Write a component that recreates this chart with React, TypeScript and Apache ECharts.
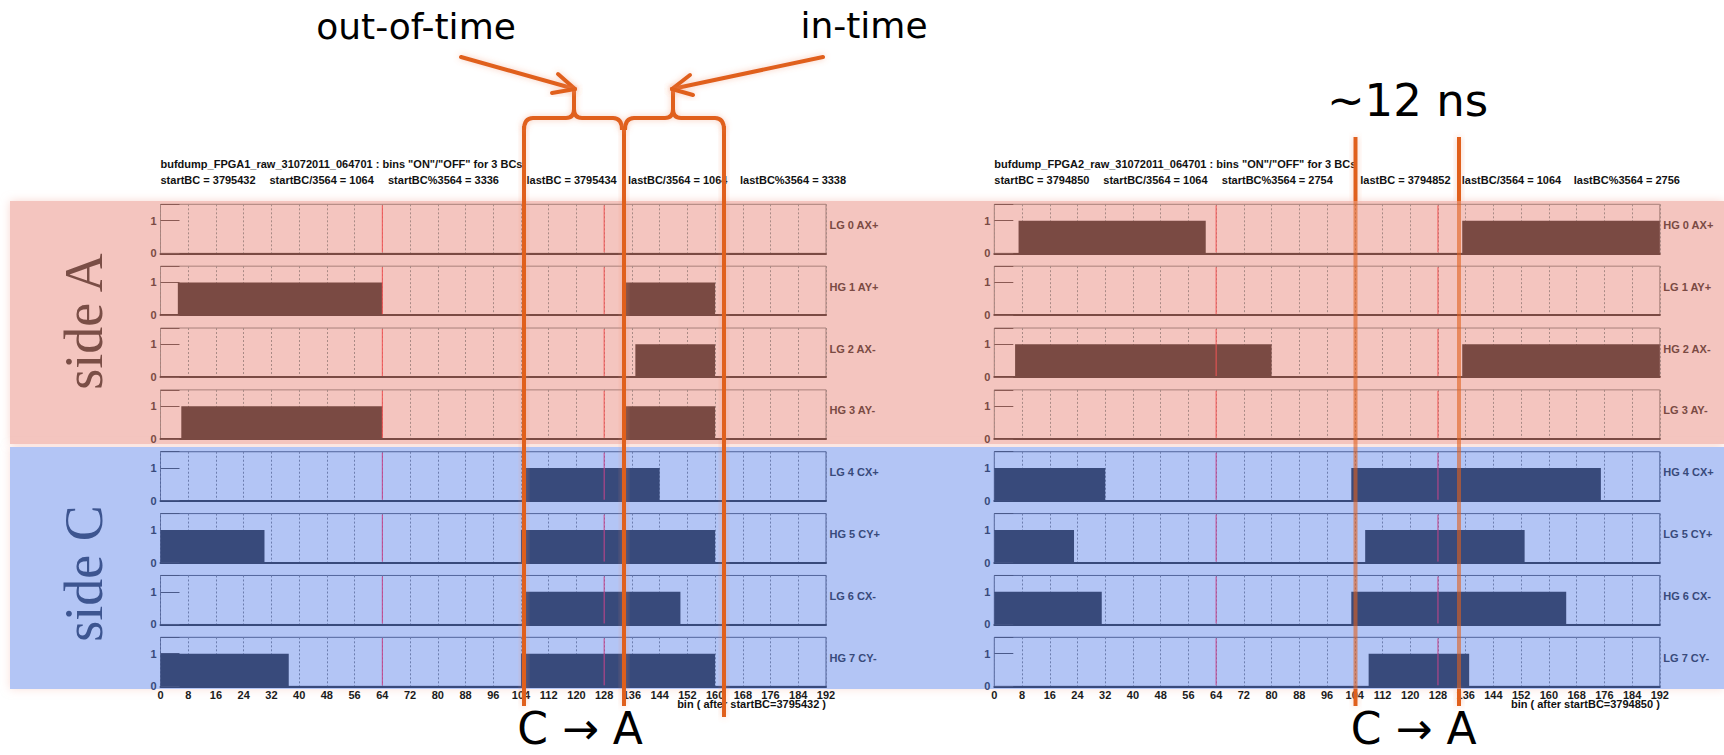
import React, { useEffect, useRef } from 'react';
import * as echarts from 'echarts';

// ---------- data ----------
const binMin = 0;
const binMax = 192;
const binStep = 8;
const bcBoundaries = [64, 128];

const channelsFPGA1 = ['LG 0 AX+', 'HG 1 AY+', 'LG 2 AX-', 'HG 3 AY-', 'LG 4 CX+', 'HG 5 CY+', 'LG 6 CX-', 'HG 7 CY-'];
const channelsFPGA2 = ['HG 0 AX+', 'LG 1 AY+', 'HG 2 AX-', 'LG 3 AY-', 'HG 4 CX+', 'LG 5 CY+', 'HG 6 CX-', 'LG 7 CY-'];

// bins "ON" intervals [start, end) per channel
const onBinsFPGA1 = [
  [],
  [[5, 64], [134, 160]],
  [[137, 160]],
  [[6, 64], [134, 160]],
  [[105, 144]],
  [[0, 30], [104, 160]],
  [[105, 150]],
  [[0, 37], [104, 160]],
];
const onBinsFPGA2 = [
  [[7, 61], [135, 192]],
  [],
  [[6, 80], [135, 192]],
  [],
  [[0, 32], [103, 175]],
  [[0, 23], [107, 153]],
  [[0, 31], [103, 165]],
  [[108, 137]],
];

const titleFPGA1 = 'bufdump_FPGA1_raw_31072011_064701 : bins "ON"/"OFF" for 3 BCs';
const titleFPGA2 = 'bufdump_FPGA2_raw_31072011_064701 : bins "ON"/"OFF" for 3 BCs';
const infoFPGA1 = ['startBC = 3795432', 'startBC/3564 = 1064', 'startBC%3564 = 3336', 'lastBC = 3795434', 'lastBC/3564 = 1064', 'lastBC%3564 = 3338'];
const infoFPGA2 = ['startBC = 3794850', 'startBC/3564 = 1064', 'startBC%3564 = 2754', 'lastBC = 3794852', 'lastBC/3564 = 1064', 'lastBC%3564 = 2756'];
const xTitleFPGA1 = 'bin ( after startBC=3795432 )';
const xTitleFPGA2 = 'bin ( after startBC=3794850 )';

const sideLabels = ['side A', 'side C'];
const annOutOfTime = 'out-of-time';
const annInTime = 'in-time';
const annDelay = '~12 ns';
const annDirection = 'C \u2192 A';

// ---------- layout / style ----------
const W = 1724;
const H = 755;
const LEFTS = [160.5, 994.3];
const PW = 665.5;
const TOP0 = 204.3;
const PITCH = 61.86;
const RH = 49;
const INFO_OFFSETS = [0, 109, 227.5, 366, 467.5, 579.5];
const ORANGE = '#e0601e';
const GLOW = 'rgba(240,140,100,0.45)';
const SANS = '"Liberation Sans", Arial, sans-serif';
const ANN_FONT = '"DejaVu Sans", sans-serif';

const THEMES = {
  A: { band: '#f4c5bf', bar: '#7a4a43', frame: '#a9807a', axis: '#7a4a43', grid: '#a88a85', red: '#f25555', text: '#7a4a43', tick: '#8a5a54' },
  C: { band: '#b3c5f5', bar: '#384a7b', frame: '#52659b', axis: '#384a7b', grid: '#6c7dae', red: '#c8458a', text: '#384a7b', tick: '#4a5a8a' },
};

function txt(text: string, x: number, y: number, opts: any = {}) {
  const align = opts.align || 'left';
  const va = opts.va || 'middle';
  return {
    type: 'text',
    x,
    y,
    rotation: opts.rotation || 0,
    z: opts.z ?? 50,
    silent: true,
    style: {
      text,
      fill: opts.fill || '#111',
      font: opts.font || `bold 11px ${SANS}`,
      align,
      verticalAlign: va,
      textAlign: align,
      textVerticalAlign: va,
      opacity: opts.opacity ?? 1,
    },
  };
}

// vertical orange bar drawn as a rect (a zero-width line loses its glow filter in SVG)
function vbar(x: number, y1: number, y2: number, opacity = 1, glow = true) {
  return {
    type: 'rect',
    z: 100,
    silent: true,
    shape: { x: x - 2, y: y1, width: 4, height: y2 - y1 },
    style: {
      fill: ORANGE,
      opacity,
      shadowBlur: glow ? 6 : 0,
      shadowColor: GLOW,
    },
  };
}

function seg(x1: number, y1: number, x2: number, y2: number) {
  return {
    type: 'line',
    z: 100,
    silent: true,
    shape: { x1, y1, x2, y2 },
    style: { stroke: ORANGE, lineWidth: 4, lineCap: 'round', shadowBlur: 6, shadowColor: GLOW },
  };
}

function buildOption() {
  const grid: any[] = [];
  const xAxis: any[] = [];
  const yAxis: any[] = [];
  const series: any[] = [];
  const graphics: any[] = [];

  // background bands
  graphics.push({
    type: 'rect', z: -10, silent: true,
    shape: { x: 10, y: 201, width: W - 10, height: 243 },
    style: { fill: THEMES.A.band, shadowBlur: 10, shadowColor: 'rgba(244,190,180,0.6)' },
  });
  graphics.push({
    type: 'rect', z: -10, silent: true,
    shape: { x: 10, y: 447, width: W - 10, height: 242 },
    style: { fill: THEMES.C.band, shadowBlur: 10, shadowColor: 'rgba(244,190,180,0.5)' },
  });
  // side labels
  graphics.push(txt(sideLabels[0], 84, 321.5, { rotation: Math.PI / 2, align: 'center', fill: '#7a4e46', font: `54px "Liberation Serif", "DejaVu Serif", serif` }));
  graphics.push(txt(sideLabels[1], 84, 573.5, { rotation: Math.PI / 2, align: 'center', fill: '#3d5590', font: `54px "Liberation Serif", "DejaVu Serif", serif` }));

  const panels = [
    { channels: channelsFPGA1, bins: onBinsFPGA1, title: titleFPGA1, info: infoFPGA1, xTitle: xTitleFPGA1 },
    { channels: channelsFPGA2, bins: onBinsFPGA2, title: titleFPGA2, info: infoFPGA2, xTitle: xTitleFPGA2 },
  ];

  panels.forEach((panel, p) => {
    const left = LEFTS[p];
    graphics.push(txt(panel.title, left, 164, { fill: '#111' }));
    panel.info.forEach((s, k) => graphics.push(txt(s, left + INFO_OFFSETS[k], 180, { fill: '#111' })));
    graphics.push(txt(panel.xTitle, left + PW, 704, { align: 'right', fill: '#111' }));

    panel.channels.forEach((ch, r) => {
      const th = r < 4 ? THEMES.A : THEMES.C;
      const idx = grid.length;
      const top = TOP0 + r * PITCH;
      grid.push({ left, top, width: PW, height: RH, show: true, borderColor: th.frame, borderWidth: 1, backgroundColor: 'transparent' });
      xAxis.push({
        gridIndex: idx, type: 'value', min: binMin, max: binMax, interval: binStep,
        axisLine: { show: true, onZero: false, lineStyle: { color: th.axis, width: 2 } },
        axisTick: { show: false },
        axisLabel: { show: r === 7, margin: 3, fontSize: 11, fontWeight: 'bold', color: '#1a1a1a', fontFamily: SANS },
        splitLine: { show: true, lineStyle: { type: [2, 2], color: th.grid, width: 1 } },
      });
      yAxis.push({
        gridIndex: idx, type: 'value', min: 0, max: 1.5, interval: 1,
        axisLine: { show: false },
        axisTick: { show: true, inside: true, length: 19, lineStyle: { color: th.tick, width: 1 } },
        axisLabel: {
          margin: 4, fontSize: 11, fontWeight: 'bold', color: th.text, fontFamily: SANS,
          formatter: (v: number) => (v === 0 || v === 1 ? String(v) : ''),
        },
        splitLine: { show: false },
      });
      series.push({
        type: 'custom',
        xAxisIndex: idx, yAxisIndex: idx,
        silent: true, z: 3,
        encode: { x: [0, 1], y: 2 },
        data: panel.bins[r].map(([s, e]) => [s, e, 1]),
        renderItem: (params: any, api: any) => {
          const a = api.coord([api.value(0), 1]);
          const b = api.coord([api.value(1), 0]);
          return {
            type: 'rect',
            shape: { x: a[0], y: a[1], width: b[0] - a[0], height: b[1] - a[1] },
            style: { fill: th.bar, stroke: null },
          };
        },
      });
      series.push({
        type: 'custom',
        xAxisIndex: idx, yAxisIndex: idx,
        silent: true, z: 4,
        encode: { x: 0, y: 1 },
        data: bcBoundaries.map((v) => [v, 0]),
        renderItem: (params: any, api: any) => {
          const a = api.coord([api.value(0), 0]);
          const b = api.coord([api.value(0), 1.5]);
          return {
            type: 'line',
            shape: { x1: a[0], y1: a[1] - 1, x2: b[0], y2: b[1] + 1 },
            style: { stroke: th.red, lineWidth: 1 },
          };
        },
      });
      graphics.push(txt(ch, left + PW + 3.5, top + 20.5, { fill: th.text }));
    });
  });

  // ----- annotations: left panel -----
  graphics.push(vbar(524, 126, 706));
  graphics.push(vbar(624, 126, 706));
  graphics.push(vbar(724, 126, 717));
  graphics.push({
    type: 'braceL', x: 0, y: 0, z: 100, silent: true,
    style: { stroke: ORANGE, fill: 'none', lineWidth: 4, lineJoin: 'round', shadowBlur: 6, shadowColor: GLOW },
  });
  graphics.push({
    type: 'braceR', x: 0, y: 0, z: 100, silent: true,
    style: { stroke: ORANGE, fill: 'none', lineWidth: 4, lineJoin: 'round', shadowBlur: 6, shadowColor: GLOW },
  });
  // arrows
  graphics.push(seg(461, 57, 575, 89));
  graphics.push(seg(575, 89, 558, 74));
  graphics.push(seg(575, 89, 552, 93));
  graphics.push(seg(823, 57, 672, 89));
  graphics.push(seg(672, 89, 690, 75));
  graphics.push(seg(672, 89, 693, 95));
  graphics.push(txt(annOutOfTime, 416, 26.7, { align: 'center', fill: '#000', font: `36px ${ANN_FONT}`, z: 110 }));
  graphics.push(txt(annInTime, 864, 25.4, { align: 'center', fill: '#000', font: `36px ${ANN_FONT}`, z: 110 }));
  graphics.push(txt(annDirection, 580, 728, { align: 'center', fill: '#000', font: `44px ${ANN_FONT}`, z: 110 }));

  // ----- annotations: right panel -----
  [1355.5, 1459].forEach((x) => {
    graphics.push(vbar(x, 137, 201));
    graphics.push(vbar(x, 201, 689, 0.6, false));
    graphics.push(vbar(x, 689, 706));
  });
  graphics.push(txt(annDelay, 1407.5, 100.5, { align: 'center', fill: '#000', font: `45px ${ANN_FONT}`, z: 110 }));
  graphics.push(txt(annDirection, 1413.7, 728, { align: 'center', fill: '#000', font: `44px ${ANN_FONT}`, z: 110 }));

  return {
    animation: false,
    backgroundColor: '#ffffff',
    grid,
    xAxis,
    yAxis,
    series,
    graphic: { elements: graphics },
  };
}

let shapesRegistered = false;
function registerShapes() {
  if (shapesRegistered) return;
  shapesRegistered = true;
  const braceL = 'M524 130 Q524 118 533 118 L566 118 Q574 118 574 109 L574 91 M574 109 Q574 118 582 118 L613 118 Q622 118 622 130';
  const braceR = 'M625 130 Q625 118 634 118 L665 118 Q673 118 673 109 L673 91 M673 109 Q673 118 681 118 L715 118 Q724 118 724 130';
  echarts.graphic.registerShape('braceL', echarts.graphic.extendPath(braceL, {}));
  echarts.graphic.registerShape('braceR', echarts.graphic.extendPath(braceR, {}));
}

export default function App() {
  const ref = useRef<HTMLDivElement>(null);
  useEffect(() => {
    if (!ref.current) return;
    registerShapes();
    const chart = echarts.init(ref.current, null, { renderer: 'svg' });
    chart.setOption(buildOption());
    return () => chart.dispose();
  }, []);
  return (
    <div
      ref={ref}
      style={{ position: 'absolute', left: 0, top: 0, width: W, height: H, background: '#fff' }}
    />
  );
}
